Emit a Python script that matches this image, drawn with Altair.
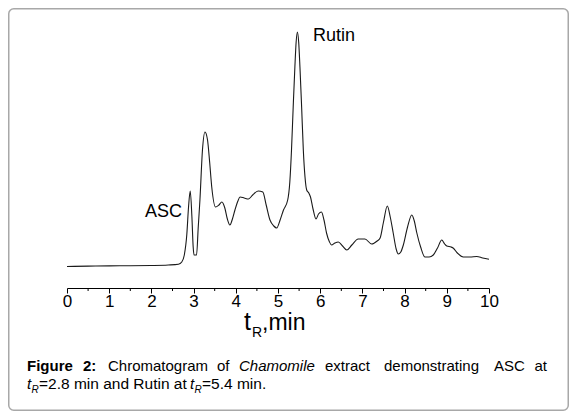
import altair as alt
import pandas as pd

# ---------------- data ----------------
time_min = [0.00, 0.50, 1.00, 1.50, 2.00, 2.40, 2.64, 2.72, 2.78, 2.84, 2.88, 2.92,
            2.96, 2.99, 3.01, 3.07, 3.11, 3.15, 3.21, 3.27, 3.33, 3.38, 3.43, 3.52,
            3.60, 3.67, 3.74, 3.80, 3.86, 3.92, 3.98, 4.05, 4.10, 4.20, 4.30, 4.40,
            4.53, 4.64, 4.72, 4.81, 4.90, 4.97, 5.05, 5.13, 5.23, 5.28, 5.32, 5.36,
            5.40, 5.43, 5.46, 5.49, 5.52, 5.56, 5.60, 5.64, 5.68, 5.73, 5.77, 5.83,
            5.90, 5.96, 6.03, 6.09, 6.15, 6.22, 6.27, 6.35, 6.43, 6.53, 6.63, 6.75,
            6.90, 7.06, 7.22, 7.35, 7.42, 7.50, 7.59, 7.66, 7.73, 7.80, 7.85, 7.91,
            7.97, 8.07, 8.17, 8.23, 8.29, 8.38, 8.48, 8.58, 8.68, 8.78, 8.88, 8.95,
            9.00, 9.10, 9.15, 9.25, 9.39, 9.55, 9.71, 9.85, 10.00]
signal = [0.5, 0.9, 1.1, 1.3, 1.5, 2.0, 2.8, 5, 12, 33, 60, 76,
          50, 20, 12, 12, 40, 67, 117, 135, 127, 105, 80, 60,
          62, 65, 59, 48, 42, 48, 57, 66, 70, 69, 68, 72,
          76, 75, 62, 47, 41, 39, 47, 57, 67, 85, 117, 160,
          200, 225, 235, 225, 200, 160, 117, 90, 77, 74, 70, 58,
          48, 53, 55, 47, 34, 25, 22, 24, 25, 21, 17, 22,
          28, 28, 23, 26, 29, 45, 61, 50, 34, 18, 13, 15,
          22, 40, 52, 46, 34, 20, 10, 10, 12, 19, 27, 23,
          21, 20, 19, 14, 10, 10, 10.5, 9, 7.7]
major_ticks = [0, 1, 2, 3, 4, 5, 6, 7, 8, 9, 10]
minor_ticks = [0.5, 1.5, 2.5, 3.5, 4.5, 5.5, 6.5, 7.5, 8.5, 9.5]
peak_labels = ["ASC", "Rutin"]
axis_title = ["t", "R", ",min"]
caption_line1 = ["Figure", "2:", "Chromatogram", "of", "Chamomile", "extract",
                 "demonstrating", "ASC", "at"]
caption_line2 = ["t", "R", "=2.8 min and Rutin at", "t", "R", "=5.4 min."]

# ---------------- layout ----------------
W, H = 422, 271
FONT = "Liberation Sans"
one = pd.DataFrame({"k": [0]})

df = pd.DataFrame({"t": time_min, "s": signal})

xscale = alt.Scale(domain=[0, 10], nice=False, zero=False)
yscale = alt.Scale(domain=[-21, 250], nice=False, zero=False)

line = alt.Chart(df).mark_line(
    color="#1a1a1a", strokeWidth=1.1, interpolate="monotone"
).encode(
    x=alt.X("t:Q", scale=xscale,
            axis=alt.Axis(values=major_ticks, title="", grid=False, tickSize=5,
                          labelFontSize=17, labelFont=FONT, labelColor="black",
                          tickColor="black", domainColor="black", labelPadding=0,
                          labelFlush=False, format="d")),
    y=alt.Y("s:Q", scale=yscale, axis=None),
)

minor = alt.Chart(pd.DataFrame({"m": minor_ticks})).mark_rule(
    color="black", strokeWidth=1
).encode(
    x=alt.X("m:Q", scale=xscale),
    y=alt.value(H),
    y2=alt.value(H + 3),
)


def txt(s, x, y, size, weight="normal", style="normal", align="left"):
    return alt.Chart(one).mark_text(
        font=FONT, fontSize=size, fontWeight=weight, fontStyle=style,
        align=align, baseline="alphabetic", color="black"
    ).encode(x=alt.value(x), y=alt.value(y), text=alt.value(s))


OX, OY = 67, 17  # page position of the plot's top-left corner

layers = [line, minor]

# peak labels
layers.append(txt(peak_labels[0], 145 - OX, 217 - OY, 18))
layers.append(txt(peak_labels[1], 313 - OX, 41 - OY, 18))

# axis title t_R,min
layers.append(txt(axis_title[0], 244 - OX, 330 - OY, 25))
layers.append(txt(axis_title[1], 252 - OX, 337 - OY, 14))
layers.append(txt(axis_title[2], 262 - OX, 330 - OY, 23))

# caption, line 1 (justified)
b1 = 371 - OY
xs1 = [27, 83, 108, 217, 239, 325, 384, 494, 534.5]
for i, (w, xx) in enumerate(zip(caption_line1, xs1)):
    weight = "bold" if i < 2 else "normal"
    style = "italic" if w == "Chamomile" else "normal"
    layers.append(txt(w, xx - OX, b1, 15, weight, style))

# caption, line 2
b2 = 389 - OY
layers.append(txt(caption_line2[0], 27 - OX, b2, 15, style="italic"))
layers.append(txt(caption_line2[1], 31.5 - OX, b2 + 4, 10, style="italic"))
layers.append(txt(caption_line2[2], 39 - OX, b2, 15.5))
layers.append(txt(caption_line2[3], 190 - OX, b2, 15, style="italic"))
layers.append(txt(caption_line2[4], 194.5 - OX, b2 + 4, 10, style="italic"))
layers.append(txt(caption_line2[5], 202 - OX, b2, 15.5))

# frame around the figure
frame = alt.Chart(one).mark_rect(
    filled=False, stroke="#a8a8a8", strokeWidth=1.5, cornerRadius=5
).encode(
    x=alt.value(8.75 - OX), x2=alt.value(568.25 - OX),
    y=alt.value(8.75 - OY), y2=alt.value(410.25 - OY),
)
layers.append(frame)

chart = alt.layer(*layers).properties(
    width=W, height=H,
    background="white",
    autosize=alt.AutoSizeParams(type="none"),
    padding={"left": 59, "top": 9, "right": 80, "bottom": 123},
).configure_view(
    stroke="transparent", strokeWidth=0
)

chart.save("out.html", embed_options={"renderer": "svg", "actions": False})
